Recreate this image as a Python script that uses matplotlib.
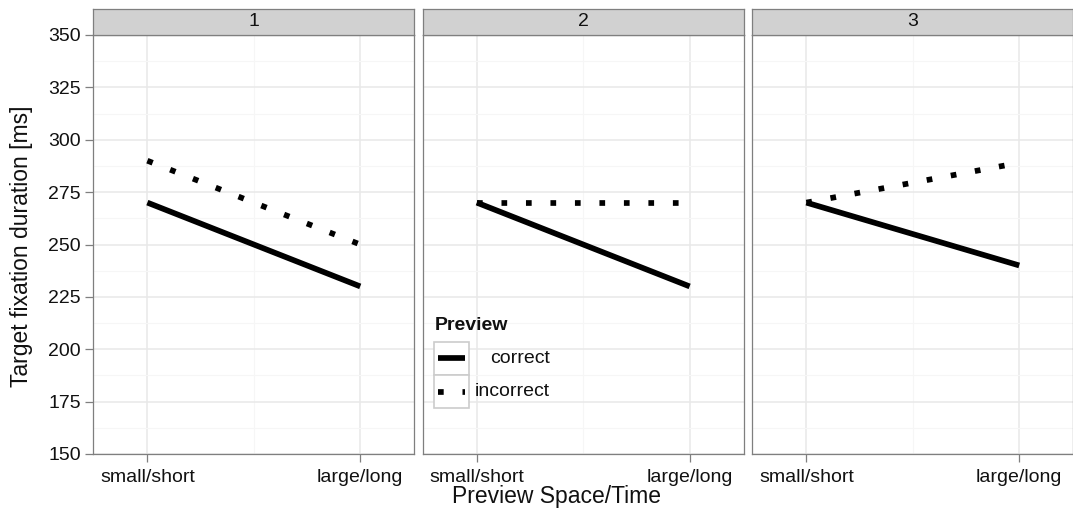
import matplotlib
matplotlib.use('Agg')
import matplotlib.pyplot as plt
from matplotlib.lines import Line2D
from matplotlib.patches import Rectangle
import numpy as np

# ---- data ----
panels = ['1', '2', '3']
x_levels = ['small/short', 'large/long']
correct = [[270, 230], [270, 230], [270, 240]]
incorrect = [[290, 250], [270, 270], [270, 289]]
y_ticks = [150, 175, 200, 225, 250, 275, 300, 325, 350]
legend_title = 'Preview'
series_names = ['correct', 'incorrect']
x_title = 'Preview Space/Time'
y_title = 'Target fixation duration [ms]'

plt.rcParams['font.family'] = ['Liberation Sans', 'DejaVu Sans']

W, H = 1073, 516
fig = plt.figure(figsize=(W / 100, H / 100), dpi=100)


def fx(px):
    return px / W


def fy(py):
    return 1 - py / H


lefts = [93.3, 422.7, 752.3]
pw = 321
top, bottom, strip_top = 35, 454, 9
border = '#7F7F7F'
LW = 4.1
DOTS = (1, 3.3)
FS = 14

axes = []
for i, lab in enumerate(panels):
    ax = fig.add_axes([fx(lefts[i]), fy(bottom), pw / W, (bottom - top) / H])
    ax.plot(x_levels, correct[i], color='black', lw=LW, solid_capstyle='butt', zorder=3)
    ax.plot(x_levels, incorrect[i], color='black', lw=LW, dashes=DOTS,
            dash_capstyle='butt', zorder=3)
    ax.set_xlim(-0.254, 1.254)
    ax.set_ylim(y_ticks[0], y_ticks[-1])
    ax.set_yticks(y_ticks)
    ax.set_yticks([v + 12.5 for v in y_ticks[:-1]], minor=True)
    ax.set_xticks([0.5], minor=True)
    ax.grid(which='major', color='#E8E8E8', lw=1.1)
    ax.grid(which='minor', color='#F6F6F6', lw=0.8)
    ax.set_axisbelow(True)
    for s in ax.spines.values():
        s.set_color(border)
        s.set_linewidth(0.9)
    ax.tick_params(which='minor', length=0)
    ax.tick_params(which='major', color=border, length=6, width=0.9,
                   labelsize=FS, pad=3, labelcolor='#111111')
    ax.tick_params(axis='x', pad=4.5)
    if i > 0:
        ax.tick_params(axis='y', left=False, labelleft=False)
    sax = fig.add_axes([fx(lefts[i]), fy(top), pw / W, (top - strip_top) / H])
    sax.set_facecolor('#D1D1D1')
    sax.set_xticks([])
    sax.set_yticks([])
    for s in sax.spines.values():
        s.set_color(border)
        s.set_linewidth(0.9)
    sax.text(0.5, 0.5, lab, ha='center', va='center', fontsize=FS,
             transform=sax.transAxes, color='#111111')
    axes.append(ax)

fig.text(fx(556), fy(497), x_title, ha='center', va='center', fontsize=16.5, color='#111111')
fig.text(fx(22), fy(246), y_title, ha='center', va='center', rotation=90,
         fontsize=16.5, color='#111111')

# ---- legend (manual, inside panel 2) ----
fig.text(fx(435), fy(326), legend_title, ha='left', va='center', fontsize=FS,
         fontweight='bold', color='#111111')
key_l, key_r = 434.3, 468.7
rows = [(341.7, 375), (375, 408.3)]
styles = [dict(solid_capstyle='butt'), dict(dashes=DOTS, dash_capstyle='butt')]
for (y0, y1), name, st in zip(rows, series_names, styles):
    fig.add_artist(Rectangle((fx(key_l), fy(y1)), (key_r - key_l) / W, (y1 - y0) / H,
                             transform=fig.transFigure, facecolor='white',
                             edgecolor='#CCCCCC', lw=1.2))
    yc = (y0 + y1) / 2
    fig.add_artist(Line2D([fx(438), fx(465)], [fy(yc), fy(yc)], color='black', lw=LW,
                          transform=fig.transFigure, **st))
    fig.text(fx(550), fy(yc), name, ha='right', va='center', fontsize=FS, color='#111111')

fig.savefig('out.png', dpi=100)
